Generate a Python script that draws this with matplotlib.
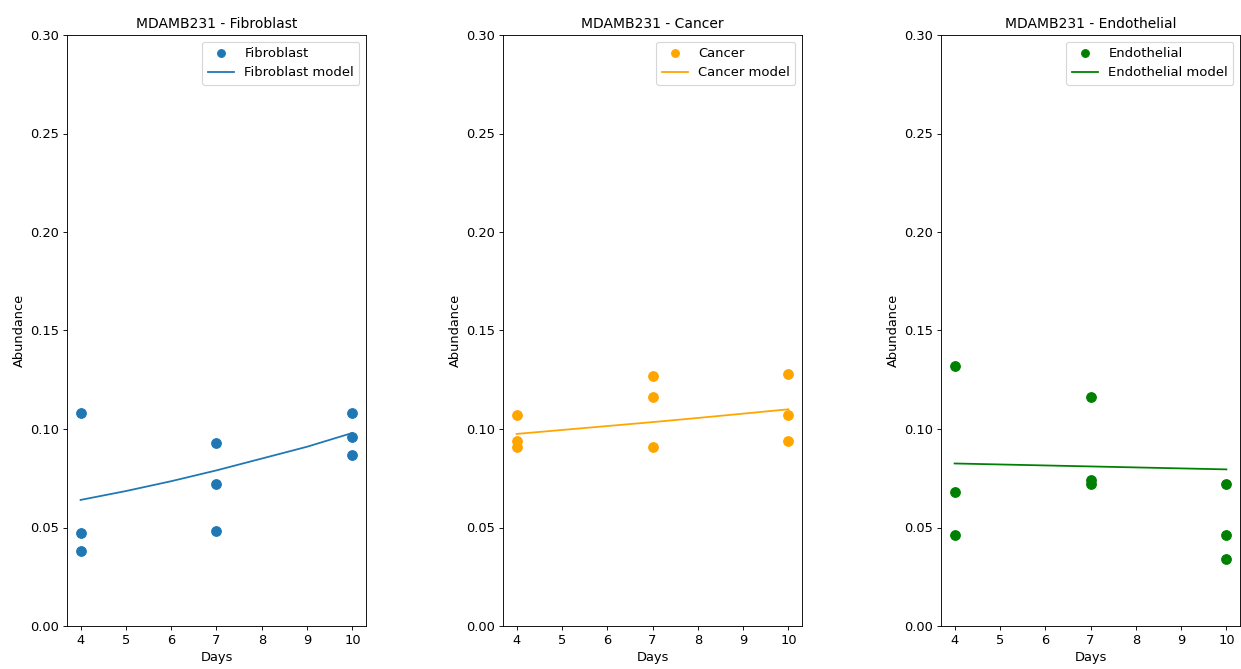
import matplotlib
matplotlib.use("Agg")
import matplotlib.pyplot as plt

days = [4, 4, 4, 7, 7, 7, 10, 10, 10]
model_days = [4, 5, 6, 7, 8, 9, 10]

fibro = [0.108, 0.047, 0.038, 0.093, 0.072, 0.048, 0.108, 0.096, 0.087]
fibro_model = [0.064, 0.0685, 0.0735, 0.079, 0.085, 0.091, 0.098]

cancer = [0.107, 0.094, 0.091, 0.127, 0.116, 0.091, 0.128, 0.107, 0.094]
cancer_model = [0.0975, 0.0995, 0.1015, 0.1035, 0.1056, 0.1078, 0.110]

endo = [0.132, 0.068, 0.046, 0.116, 0.074, 0.072, 0.072, 0.046, 0.034]
endo_model = [0.0825, 0.082, 0.0815, 0.081, 0.0805, 0.080, 0.0795]

panels = [
    ("Fibroblast", fibro, fibro_model, "tab:blue"),
    ("Cancer", cancer, cancer_model, "orange"),
    ("Endothelial", endo, endo_model, "green"),
]

W, H = 1241, 669
fig = plt.figure(figsize=(W / 80, H / 80), dpi=80)
lefts = [67, 503, 941]
for left, (name, pts, model, color) in zip(lefts, panels):
    ax = fig.add_axes([left / W, 1 - 626 / H, 299 / W, (626 - 35) / H])
    ax.scatter(days, pts, color=color, s=75, label=name)
    ax.plot(model_days, model, color=color, lw=1.6, label=f"{name} model")
    ax.set_ylim(0, 0.30)
    ax.set_xticks(range(4, 11))
    ax.tick_params(labelsize=11.7)
    ax.set_title(f"MDAMB231 - {name}", fontsize=12.5)
    ax.set_xlabel("Days", fontsize=11.7)
    ax.set_ylabel("Abundance", fontsize=11.7)
    ax.legend(loc="upper right", fontsize=11.8, markerscale=0.8)

fig.savefig("out.png", dpi=80)
